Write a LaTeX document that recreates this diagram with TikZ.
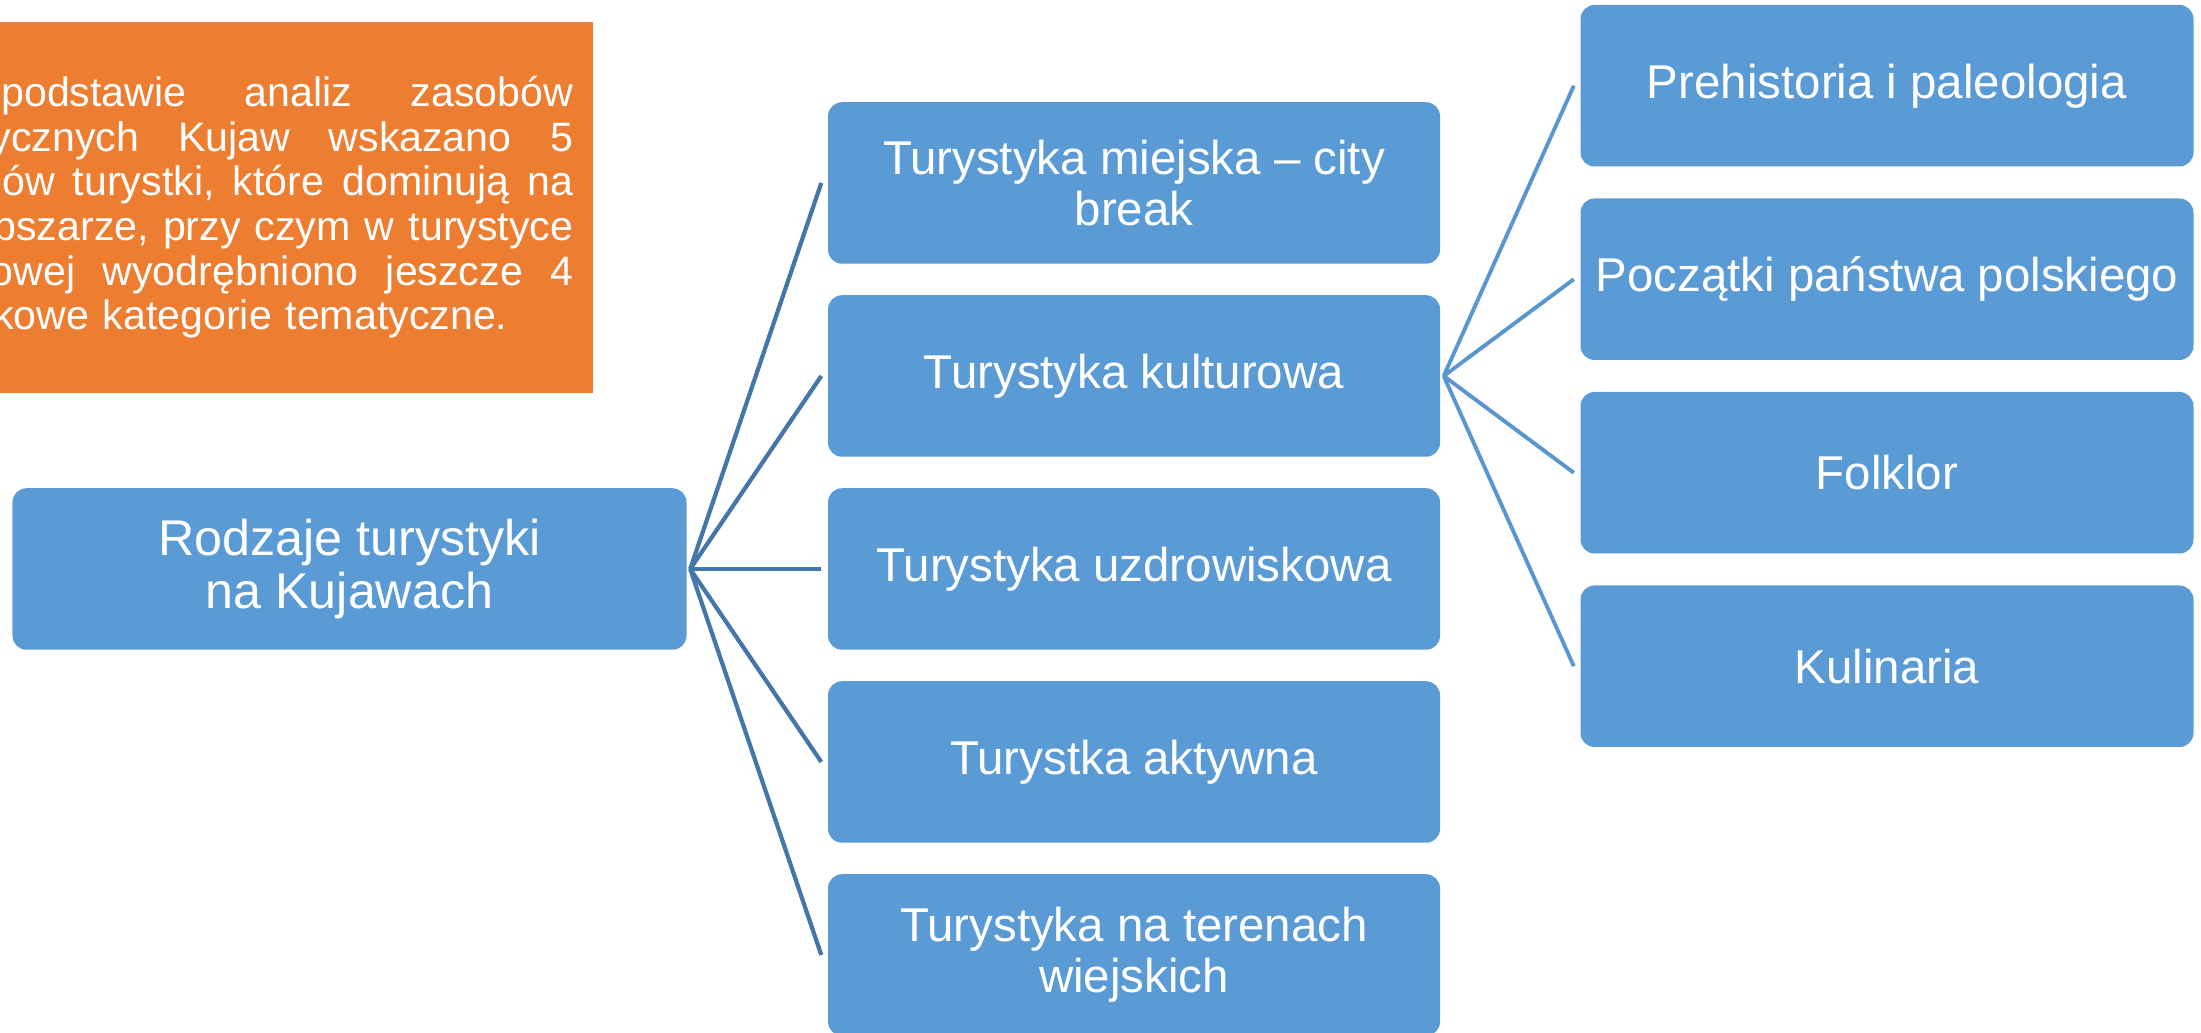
\documentclass[tikz,border=0pt]{standalone}
\usepackage{fontspec}
\setmainfont{Liberation Sans}
\definecolor{boxblue}{RGB}{91,155,213}
\definecolor{noteorange}{RGB}{237,125,49}
\definecolor{linkdark}{RGB}{68,118,170}
\definecolor{linklight}{RGB}{88,150,208}
\newcommand{\jline}[1]{\makebox[6.83cm]{#1}}

\begin{document}
\begin{tikzpicture}[
	box/.style={rectangle, rounded corners=0.14cm, fill=boxblue, text=white,
		minimum width=6.12cm, minimum height=1.615cm, align=center,
		font=\fontsize{13.5pt}{14.6pt}\selectfont},
	note/.style={rectangle, fill=noteorange, text=white, text width=6.83cm,
		inner xsep=0.2cm, minimum height=3.71cm, align=left,
		font=\fontsize{11.7pt}{12.7pt}\selectfont},
	linkleft/.style={draw=linkdark, line width=1.2pt},
	linkright/.style={draw=linklight, line width=1.1pt}]
	\useasboundingbox (0,0) rectangle (22.01,10.33);
	\clip (0,0) rectangle (22.01,10.33);

	% note box, cut at the left edge
	\node[note, anchor=north east] (note) at (5.94,10.12) {\jline{Na\hfill podstawie\hfill analiz\hfill zasobów}\\
		\jline{turystycznych\hfill Kujaw\hfill wskazano\hfill 5}\\
		\jline{rodzajów\hfill turystki,\hfill które\hfill dominują\hfill na}\\
		\jline{tym\hfill obszarze,\hfill przy\hfill czym\hfill w\hfill turystyce}\\
		\jline{kulturowej\hfill wyodrębniono\hfill jeszcze\hfill 4}\\
		dodatkowe kategorie tematyczne.};

	% root
	\node[box, minimum width=6.74cm, font=\fontsize{14.3pt}{15.2pt}\selectfont] (root) at (3.495,4.64) {Rodzaje turystyki\\na Kujawach};

	% middle column
	\node[box] (m1) at (11.34,8.50) {Turystyka miejska – city\\break};
	\node[box] (m2) at (11.34,6.57) {Turystyka kulturowa};
	\node[box] (m3) at (11.34,4.64) {Turystyka uzdrowiskowa};
	\node[box] (m4) at (11.34,2.71) {Turystka aktywna};
	\node[box] (m5) at (11.34,0.78) {Turystyka na terenach\\wiejskich};

	% right column
	\node[box, minimum width=6.13cm] (r1) at (18.87,9.4725) {Prehistoria i paleologia};
	\node[box, minimum width=6.13cm] (r2) at (18.87,7.5375) {Początki państwa polskiego};
	\node[box, minimum width=6.13cm] (r3) at (18.87,5.6025) {Folklor};
	\node[box, minimum width=6.13cm] (r4) at (18.87,3.6675) {Kulinaria};

	\foreach \i in {1,...,5} {
		\draw[linkleft] ([xshift=0.03cm]root.east) -- ([xshift=-0.06cm]m\i.west);
	}
	\foreach \i in {1,...,4} {
		\draw[linkright] ([xshift=0.03cm]m2.east) -- ([xshift=-0.06cm]r\i.west);
	}
\end{tikzpicture}
\end{document}
